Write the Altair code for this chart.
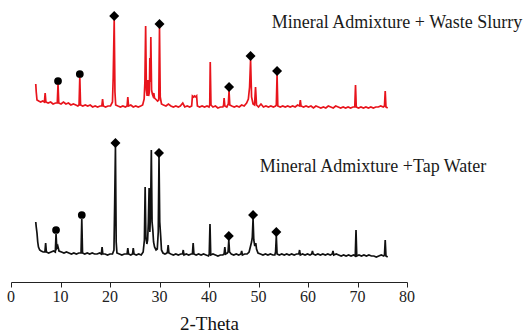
import altair as alt
import pandas as pd

# ---- Data (2-Theta in degrees, intensity in a.u., stacked) ----
red_theta = [5.0,5.1,5.25,5.6,6.0,6.4,6.75,6.9,7.05,7.5,8.0,8.5,9.0,9.35,9.5,9.65,10.1,10.6,11.1,11.6,12.1,12.6,13.1,13.5,13.75,13.9,14.05,14.5,15.0,15.5,16.0,16.5,17.0,17.5,18.0,18.35,18.5,18.65,19.1,19.6,20.1,20.5,20.65,20.85,21.0,21.15,21.6,22.1,22.6,23.1,23.45,23.6,23.75,24.2,24.7,25.2,25.7,26.2,26.6,26.9,27.05,27.2,27.35,27.5,27.65,27.8,27.95,28.05,28.15,28.25,28.4,28.55,28.7,28.85,29.0,29.2,29.4,29.6,29.85,30.0,30.15,30.4,30.8,31.3,31.8,32.3,32.8,33.3,33.8,34.2,34.7,35.1,35.6,36.1,36.5,36.65,36.9,37.1,37.35,37.5,37.65,38.1,38.6,39.1,39.6,40.0,40.15,40.25,40.4,40.8,41.3,41.8,42.3,42.8,42.95,43.05,43.2,43.6,43.9,44.05,44.2,44.6,45.1,45.6,46.1,46.6,47.1,47.6,47.95,48.2,48.4,48.6,48.9,49.2,49.4,49.6,50.0,50.5,51.0,51.5,52.0,52.5,53.0,53.45,53.6,53.75,53.9,54.4,54.9,55.4,55.9,56.4,56.9,57.4,57.9,58.3,58.45,58.6,59.1,59.6,60.1,60.6,61.1,61.6,62.1,62.6,63.1,63.6,64.1,64.6,65.1,65.6,66.1,66.6,67.1,67.6,68.1,68.6,69.1,69.45,69.6,69.75,70.2,70.7,71.2,71.7,72.2,72.7,73.2,73.7,74.2,74.7,75.2,75.45,75.6,75.75,76.1]
red_int = [198,190,182,181,180,181,180,189,180,179,180,178,179,179,198,179,178,180,178,179,177,178,177,176,177,205,177,176,177,176,177,175,176,175,176,176,183,176,175,176,176,180,205,262,190,177,176,175,176,175,176,185,176,177,175,176,175,176,177,183,200,256,192,186,202,186,190,224,200,245,192,188,186,189,184,183,182,181,182,254,185,178,177,176,178,176,175,176,175,176,179,175,176,175,176,186,185,186,185,186,176,175,176,175,176,175,177,220,177,175,176,174,175,175,177,184,176,175,178,191,177,176,175,176,175,177,176,179,183,195,222,185,178,177,195,177,175,178,175,176,175,176,175,176,177,207,176,175,176,175,176,175,176,175,177,176,182,176,175,176,175,176,174,176,175,174,175,174,176,175,174,176,175,174,175,174,175,174,175,175,197,175,174,175,174,175,174,175,174,175,175,176,175,176,191,175,174]

black_theta = [5.0,5.1,5.25,5.4,5.55,5.8,6.1,6.5,6.85,7.0,7.15,7.6,8.1,8.6,8.95,9.1,9.25,9.45,9.7,10.2,10.7,11.2,11.7,12.2,12.7,13.2,13.7,14.15,14.3,14.45,14.9,15.4,15.9,16.4,16.9,17.4,17.9,18.25,18.4,18.55,19.0,19.5,20.0,20.5,20.8,20.95,21.1,21.25,21.4,21.9,22.4,22.9,23.45,23.6,23.75,24.2,24.55,24.7,24.85,25.3,25.8,26.3,26.7,26.95,27.1,27.25,27.45,27.6,27.75,27.9,28.05,28.2,28.35,28.5,28.65,28.8,29.0,29.3,29.55,29.75,29.9,30.05,30.25,30.4,30.7,31.1,31.5,31.6,31.75,31.9,32.3,32.8,33.3,33.8,34.3,34.65,34.8,34.95,35.4,35.9,36.4,36.65,36.8,36.95,37.4,37.9,38.4,38.9,39.4,39.9,40.05,40.2,40.35,40.8,41.3,41.8,42.3,42.8,43.05,43.2,43.35,43.7,43.85,44.0,44.15,44.5,45.0,45.5,46.0,46.45,46.6,46.75,47.2,47.7,48.1,48.4,48.6,48.75,48.9,49.05,49.25,49.45,49.6,49.9,50.4,50.9,51.4,51.9,52.4,52.9,53.3,53.45,53.6,53.75,54.2,54.7,55.2,55.7,56.2,56.7,57.2,57.7,58.15,58.3,58.45,58.9,59.4,59.9,60.4,60.75,60.9,61.05,61.5,62.0,62.5,63.0,63.5,64.0,64.5,64.9,65.05,65.2,65.7,66.2,66.7,67.2,67.7,68.2,68.7,69.2,69.55,69.7,69.85,70.3,70.8,71.3,71.8,72.3,72.8,73.3,73.8,74.3,74.8,75.3,75.45,75.6,75.75,76.1]
black_int = [60,55,49,40,35,32,31,30,30,39,30,29,30,31,30,48,34,36,31,30,29,30,29,28,29,28,29,29,63,29,28,29,28,29,28,28,29,28,35,28,28,27,28,28,32,80,135,40,29,28,27,28,28,34,28,27,28,34,28,27,28,27,30,42,95,45,38,42,60,94,50,70,132,60,52,40,35,32,33,50,125,60,45,32,29,28,29,30,37,29,28,27,28,27,28,28,32,27,28,27,28,28,39,28,27,28,27,28,27,26,28,58,27,28,27,26,27,27,28,35,28,29,30,42,30,28,27,28,27,28,31,27,28,28,30,36,40,45,63,42,36,39,33,29,28,27,28,27,28,27,27,30,46,28,27,28,27,28,27,28,27,28,28,32,27,28,27,28,27,28,31,28,27,28,27,28,27,28,27,28,31,27,28,27,26,27,26,27,26,27,26,52,26,27,26,27,26,27,26,26,25,26,27,26,27,42,26,25]

series_names = ["Mineral Admixture + Waste Slurry", "Mineral Admixture +Tap Water"]
series_colors = ["#e8141c", "#111111"]

# phase markers (circle / diamond) placed on top of the identified peaks
marker_theta = [9.5, 13.9, 20.85, 30.0, 44.05, 48.4, 53.75,
                9.1, 14.3, 21.1, 29.9, 44.0, 48.9, 53.6]
marker_int = [201, 208, 266, 258, 195, 226, 211,
              52, 67, 139, 129, 46, 67, 50]
marker_shape = ["circle", "circle", "diamond", "diamond", "diamond", "diamond", "diamond",
                "circle", "circle", "diamond", "diamond", "diamond", "diamond", "diamond"]

# series labels, anchored in data coordinates
label_theta = [52.7, 50.26]
label_int = [254, 110.5]

tick_values = [0, 5, 10, 15, 20, 25, 30, 35, 40, 45, 50, 55, 60, 65, 70, 75, 80]
tick_labels = [0, 10, 20, 30, 40, 50, 60, 70, 80]

# ---- build tables ----
rows = []
for i, (t, v) in enumerate(zip(red_theta, red_int)):
    rows.append({"theta": t, "intensity": v, "series": series_names[0], "idx": i})
for i, (t, v) in enumerate(zip(black_theta, black_int)):
    rows.append({"theta": t, "intensity": v, "series": series_names[1], "idx": i})
df_lines = pd.DataFrame(rows)

df_markers = pd.DataFrame({"theta": marker_theta, "intensity": marker_int, "shape": marker_shape})
df_labels = pd.DataFrame({"theta": label_theta, "intensity": label_int, "text": series_names})
df_ticklabels = pd.DataFrame({"theta": tick_labels, "text": [str(v) for v in tick_labels]})

FONT = "Liberation Serif"
x_scale = alt.Scale(domain=[0, 80], nice=False, zero=False)
y_scale = alt.Scale(domain=[0, 282], nice=False, zero=False)

x_axis = alt.Axis(
    values=tick_values,
    labels=False,
    tickSize={"condition": {"test": "datum.value % 10 === 0", "value": 5}, "value": 3},
    grid=False,
    domainColor="#222222",
    tickColor="#222222",
    titleFont=FONT,
    titleFontSize=19,
    titleFontWeight="normal",
    titleColor="#111111",
    titlePadding=27,
)

lines = alt.Chart(df_lines).mark_line(strokeWidth=1.7).encode(
    x=alt.X("theta:Q", scale=x_scale, axis=x_axis, title="2-Theta"),
    y=alt.Y("intensity:Q", scale=y_scale, axis=None),
    color=alt.Color("series:N", scale=alt.Scale(domain=series_names, range=series_colors), legend=None),
    order="idx:Q",
)

markers = alt.Chart(df_markers).mark_point(filled=True, opacity=1, strokeWidth=0).encode(
    x=alt.X("theta:Q", scale=x_scale),
    y=alt.Y("intensity:Q", scale=y_scale),
    shape=alt.Shape("shape:N", scale=alt.Scale(domain=["circle", "diamond"], range=["circle", "diamond"]), legend=None),
    size=alt.Size("shape:N", scale=alt.Scale(domain=["circle", "diamond"], range=[60, 100]), legend=None),
    color=alt.value("#000000"),
)

labels = alt.Chart(df_labels).mark_text(align="left", baseline="alphabetic", font=FONT, fontSize=18, color="#1a1a1a").encode(
    x=alt.X("theta:Q", scale=x_scale),
    y=alt.Y("intensity:Q", scale=y_scale),
    text="text:N",
)

tick_text = alt.Chart(df_ticklabels).mark_text(align="center", baseline="alphabetic", font=FONT, fontSize=16, color="#222222").encode(
    x=alt.X("theta:Q", scale=x_scale),
    y=alt.value(302),
    text="text:N",
)

chart = alt.layer(lines, markers, labels, tick_text).properties(
    width=396,
    height=282,
    autosize=alt.AutoSizeParams(type="none"),
    padding={"left": 11, "top": 0, "right": 123, "bottom": 51},
    background="white",
).configure_view(stroke=None)

chart.save("out.html", embed_options={"renderer": "svg", "actions": False})
